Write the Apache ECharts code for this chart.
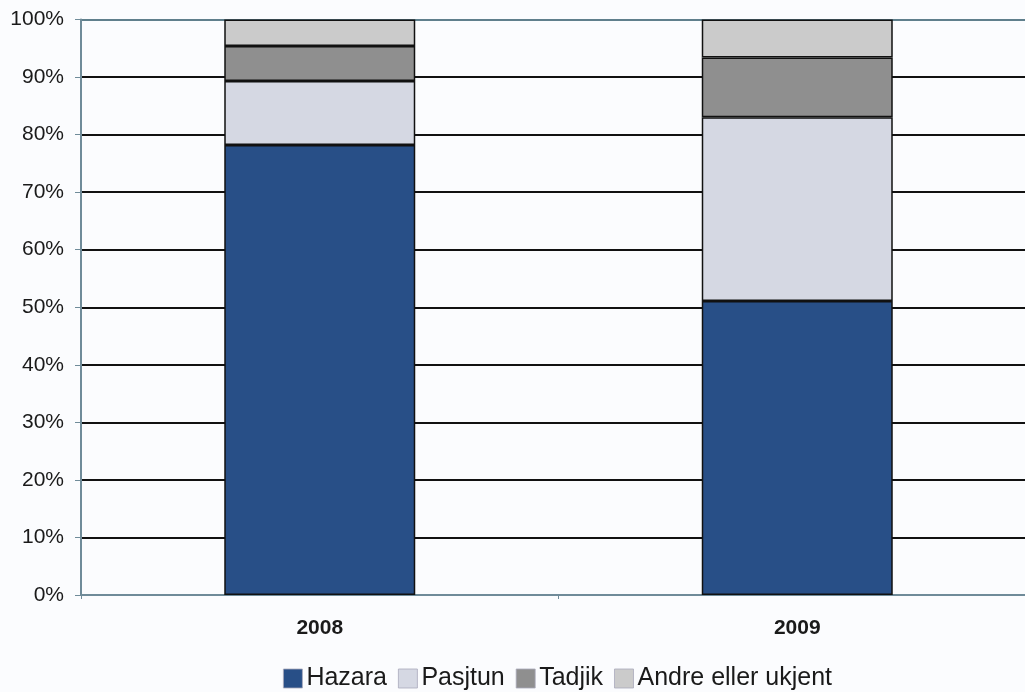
<!DOCTYPE html>
<html>
<head>
<meta charset="utf-8">
<script src="https://cdn.jsdelivr.net/npm/echarts@6/dist/echarts.min.js"></script>
<style>
  html, body { margin: 0; padding: 0; background: #fbfcfe; }
  #chart { width: 1025px; height: 692px; }
</style>
</head>
<body>
<div id="chart"></div>
<script>
// data (percent)
var years = ['2008', '2009'];
var hazara = [78.2, 51.1];
var pasjtun = [11.1, 31.9];
var tadjik = [6.1, 10.4];
var andre = [4.6, 6.6];
var seriesNames = ['Hazara', 'Pasjtun', 'Tadjik', 'Andre eller ukjent'];
var seriesColors = ['#284f87', '#d5d8e3', '#8f8f8f', '#cbcbcb'];

var chart = echarts.init(document.getElementById('chart'));

// grid line colours: black, except the top line which matches the axis
var splitColors = [];
for (var i = 0; i < 10; i++) splitColors.push('#111');
splitColors.push('#5f7f8c');

function barSeries(name, data, color) {
    return {
        name: name,
        type: 'bar',
        stack: 'total',
        barWidth: '40%',
        data: data,
        itemStyle: {
            color: color,
            borderColor: '#111',
            borderWidth: 1.5
        }
    };
}

var option = {
    backgroundColor: '#fbfcfe',
    animation: false,
    textStyle: { fontFamily: 'Liberation Sans, Arial, sans-serif' },
    legend: {
        top: 661,
        left: 278,
        itemWidth: 19,
        itemHeight: 19,
        itemGap: 11,
        icon: 'rect',
        itemStyle: { borderWidth: 0.8, borderColor: '#aab' },
        textStyle: { fontSize: 25, color: '#1a1a1a', padding: [0, 0, 0, -1] },
        data: seriesNames
    },
    grid: {
        left: 81,
        top: 19.5,
        bottom: 97,
        width: 955,
        outerBoundsMode: 'none'
    },
    xAxis: {
        type: 'category',
        data: years,
        axisLine: { lineStyle: { color: '#6f8b99', width: 2 } },
        axisTick: { show: true, length: 4, lineStyle: { color: '#6f8b99' } },
        axisLabel: { fontSize: 21, fontWeight: 'bold', color: '#1a1a1a', margin: 23 }
    },
    yAxis: {
        type: 'value',
        min: 0,
        max: 100,
        interval: 10,
        axisLine: { show: true, lineStyle: { color: '#6f8b99', width: 2 } },
        axisTick: { show: true, length: 6, lineStyle: { color: '#6f8b99' } },
        axisLabel: { fontSize: 21, color: '#1a1a1a', margin: 17, formatter: '{value}%' },
        splitLine: { show: true, lineStyle: { color: splitColors, width: 2 } }
    },
    series: [
        barSeries(seriesNames[0], hazara, seriesColors[0]),
        barSeries(seriesNames[1], pasjtun, seriesColors[1]),
        barSeries(seriesNames[2], tadjik, seriesColors[2]),
        barSeries(seriesNames[3], andre, seriesColors[3])
    ]
};

chart.setOption(option);
</script>
</body>
</html>
